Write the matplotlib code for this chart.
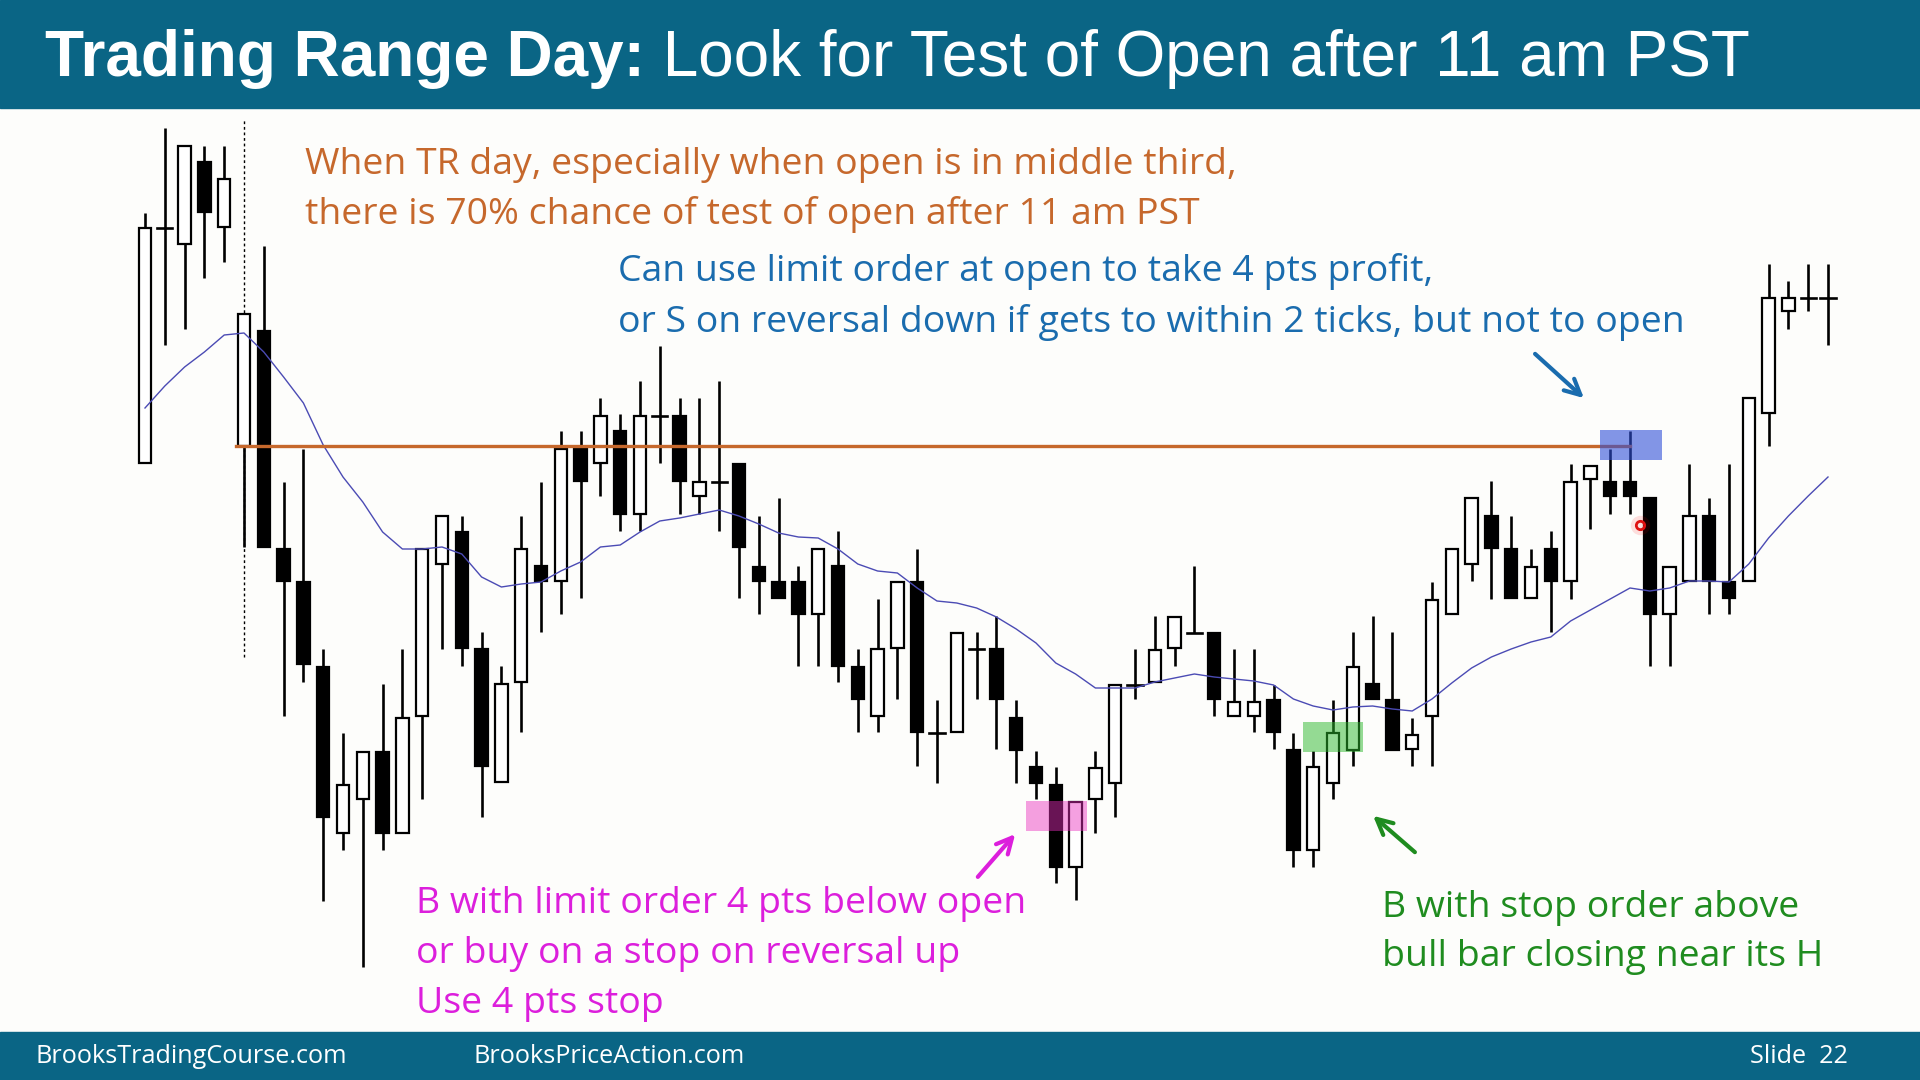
import matplotlib
matplotlib.use("Agg")
import matplotlib.pyplot as plt
from matplotlib.patches import Rectangle

# 5-min bars, Emini
opens = [1305.37, 1307.72, 1307.56, 1308.38, 1307.73, 1305.54, 1306.69, 1304.51, 1304.18, 1303.33,
         1301.67, 1302.01, 1302.48, 1301.67, 1302.84, 1304.36, 1304.68, 1303.51, 1302.18, 1303.18,
         1304.34, 1304.19, 1305.51, 1305.37, 1305.69, 1304.86, 1305.84, 1305.84, 1305.04, 1305.18,
         1305.36, 1304.33, 1304.18, 1304.18, 1303.86, 1304.34, 1303.33, 1302.84, 1303.52, 1304.18,
         1302.67, 1302.68, 1303.51, 1303.51, 1302.82, 1302.33, 1302.15, 1301.33, 1302.01, 1302.17,
         1303.15, 1303.18, 1303.52, 1303.67, 1303.67, 1302.84, 1302.84, 1303.00, 1302.50, 1301.50,
         1302.17, 1302.50, 1303.16, 1303.00, 1302.51, 1302.84, 1303.86, 1304.36, 1304.84, 1304.51,
         1304.02, 1304.51, 1304.19, 1305.21, 1305.18, 1305.18, 1305.02, 1303.86, 1304.19, 1304.84,
         1304.18, 1304.19, 1305.87, 1306.89, 1307.02, 1307.02]
highs = [1307.87, 1308.72, 1308.54, 1308.54, 1308.54, 1306.86, 1307.54, 1305.18, 1305.51, 1303.51,
         1302.67, 1302.48, 1303.16, 1303.51, 1304.51, 1304.84, 1304.84, 1303.68, 1303.34, 1304.84,
         1305.18, 1305.69, 1305.69, 1306.02, 1305.86, 1306.19, 1306.54, 1306.02, 1306.02, 1306.19,
         1305.36, 1304.84, 1305.02, 1304.34, 1304.51, 1304.69, 1303.51, 1304.01, 1304.18, 1304.51,
         1303.00, 1303.67, 1303.68, 1303.84, 1303.00, 1302.49, 1302.33, 1301.98, 1302.49, 1303.15,
         1303.51, 1303.84, 1303.83, 1304.34, 1303.67, 1303.51, 1303.51, 1303.15, 1302.67, 1302.49,
         1303.00, 1303.68, 1303.84, 1303.68, 1302.82, 1304.18, 1304.51, 1305.02, 1305.19, 1304.84,
         1304.51, 1304.69, 1305.36, 1305.34, 1305.51, 1305.69, 1305.02, 1304.33, 1305.36, 1305.02,
         1305.36, 1306.02, 1307.36, 1307.19, 1307.36, 1307.36]
lows = [1305.37, 1306.55, 1306.71, 1307.22, 1307.38, 1304.53, 1304.53, 1302.84, 1303.18, 1300.99,
        1301.50, 1300.33, 1301.50, 1301.67, 1302.01, 1303.51, 1303.34, 1301.83, 1302.18, 1302.68,
        1303.68, 1303.86, 1304.02, 1305.04, 1304.69, 1304.69, 1305.37, 1304.86, 1304.86, 1304.69,
        1304.02, 1303.86, 1304.02, 1303.34, 1303.34, 1303.18, 1302.68, 1302.68, 1303.01, 1302.34,
        1302.17, 1302.68, 1303.01, 1302.51, 1302.17, 1302.01, 1301.17, 1301.00, 1301.67, 1301.83,
        1303.01, 1303.18, 1303.34, 1303.67, 1302.84, 1302.84, 1302.68, 1302.51, 1301.33, 1301.33,
        1302.01, 1302.34, 1303.01, 1302.50, 1302.34, 1302.34, 1303.86, 1304.19, 1304.01, 1304.02,
        1304.02, 1303.68, 1304.01, 1304.71, 1304.86, 1304.86, 1303.34, 1303.34, 1304.19, 1303.86,
        1303.86, 1304.19, 1305.54, 1306.71, 1306.89, 1306.55]
closes = [1307.72, 1307.72, 1308.54, 1307.88, 1308.21, 1306.86, 1304.53, 1304.19, 1303.36, 1301.83,
          1302.15, 1302.48, 1301.67, 1302.82, 1304.51, 1304.84, 1303.52, 1302.34, 1303.16, 1304.51,
          1304.19, 1305.51, 1305.19, 1305.84, 1304.86, 1305.84, 1305.84, 1305.19, 1305.18, 1305.18,
          1304.53, 1304.19, 1304.02, 1303.86, 1304.51, 1303.34, 1303.01, 1303.51, 1304.18, 1302.68,
          1302.67, 1303.67, 1303.51, 1303.01, 1302.50, 1302.17, 1301.33, 1301.98, 1302.32, 1303.15,
          1303.15, 1303.50, 1303.83, 1303.67, 1303.01, 1302.98, 1302.98, 1302.68, 1301.50, 1302.33,
          1302.67, 1303.33, 1303.01, 1302.50, 1302.65, 1304.00, 1304.51, 1305.02, 1304.52, 1304.02,
          1304.33, 1304.19, 1305.18, 1305.34, 1305.04, 1305.04, 1303.86, 1304.33, 1304.84, 1304.19,
          1304.02, 1306.02, 1307.02, 1307.02, 1307.02, 1307.02]
ema20 = [1305.92, 1306.14, 1306.33, 1306.48, 1306.65, 1306.67, 1306.48, 1306.23, 1305.97, 1305.55,
         1305.23, 1304.98, 1304.68, 1304.51, 1304.51, 1304.53, 1304.46, 1304.23, 1304.13, 1304.16,
         1304.18, 1304.29, 1304.38, 1304.53, 1304.55, 1304.68, 1304.79, 1304.82, 1304.86, 1304.90,
         1304.84, 1304.76, 1304.67, 1304.63, 1304.62, 1304.51, 1304.36, 1304.29, 1304.27, 1304.12,
         1303.99, 1303.97, 1303.92, 1303.83, 1303.71, 1303.57, 1303.37, 1303.26, 1303.12, 1303.12,
         1303.12, 1303.18, 1303.22, 1303.26, 1303.23, 1303.21, 1303.19, 1303.15, 1303.01, 1302.94,
         1302.90, 1302.93, 1302.94, 1302.91, 1302.89, 1303.01, 1303.17, 1303.32, 1303.43, 1303.51,
         1303.58, 1303.63, 1303.79, 1303.90, 1304.01, 1304.12, 1304.09, 1304.12, 1304.19, 1304.19,
         1304.18, 1304.36, 1304.62, 1304.84, 1305.04, 1305.23]

day_open = 1305.54
open_bar = 5          # first bar of the day
open_line_end = 75    # open line drawn up to this bar
session_line = [1303.43, 1308.81]

# highlighted entry zones: (first bar, last bar, low, high)
zone_names = ["limit buy", "stop buy", "scalp target"]
zone_bars = [(44.5, 47.6), (58.5, 61.5), (73.5, 76.6)]
zone_prices = [(1301.69, 1301.99), (1302.48, 1302.78), (1305.40, 1305.70)]
zone_colors = ["#eb2dbe", "#2cb82c", "#3050d8"]
zone_alpha = [0.45, 0.5, 0.6]

TEAL = "#0a6585"
ORANGE = "#c6682c"
BLUE = "#1a6cae"
MAGENTA = "#dc1fdc"
GREEN = "#1f8c1f"

W, H = 1920, 1080
fig = plt.figure(figsize=(19.2, 10.8), dpi=100)
fig.patch.set_facecolor("#fdfdfb")

# chart area between header and footer
ax = fig.add_axes([0, 50 / H, 1, 922 / H])
ax.set_facecolor("#fdfdfb")
ax.set_xlim(-145 / 19.8, (W - 145) / 19.8)
ax.set_ylim(1299.70, 1308.92)
ax.axis("off")

for i, (o, h, l, c) in enumerate(zip(opens, highs, lows, closes)):
    top, bot = max(o, c), min(o, c)
    if h > top:
        ax.plot([i, i], [top, h], color="black", lw=1.9, solid_capstyle="butt", zorder=2)
    if l < bot:
        ax.plot([i, i], [l, bot], color="black", lw=1.9, solid_capstyle="butt", zorder=2)
    if o == c:
        ax.plot([i - 0.38, i + 0.38], [o, o], color="black", lw=1.9, zorder=3)
    else:
        face = "white" if c > o else "black"
        ax.add_patch(Rectangle((i - 0.31, bot), 0.62, top - bot, facecolor=face,
                               edgecolor="black", lw=1.6, zorder=3))

ax.plot(range(len(ema20)), ema20, color="#4b4bb4", lw=1.0, zorder=4)

# open of the day and start-of-session marker
ax.plot([open_bar - 0.38, open_line_end], [day_open, day_open], color=ORANGE, lw=2.4, zorder=5)
ax.plot([open_bar, open_bar], session_line, color="black", lw=1.0, ls=(0, (2, 2)), zorder=1)

for (x0, x1), (lo, hi), col, a in zip(zone_bars, zone_prices, zone_colors, zone_alpha):
    ax.add_patch(Rectangle((x0, lo), x1 - x0, hi - lo, facecolor=col, edgecolor="none",
                           alpha=a, zorder=6))

# red cursor dot
ax.plot([75.5], [1304.75], "o", ms=14, color="red", alpha=0.12, mec="none", zorder=7)
ax.plot([75.5], [1304.75], "o", ms=6, mfc="none", mec="#e01010", mew=2, zorder=7)

# header and footer bands
fig.add_artist(Rectangle((0, 1 - 108 / H), 1, 108 / H, transform=fig.transFigure,
                         color=TEAL, zorder=0))
fig.add_artist(Rectangle((0, 0), 1, 48 / H, transform=fig.transFigure, color=TEAL, zorder=0))

t1 = fig.text(45 / W, 1 - 76 / H, "Trading Range Day:", color="white", fontsize=46,
              fontweight="bold", family="Liberation Sans", va="baseline")
fig.canvas.draw()
bb = t1.get_window_extent()
fig.text(bb.x1 / W, 1 - 76 / H, " Look for Test of Open after 11 am PST", color="white",
         fontsize=46, family="Liberation Sans", va="baseline")

foot = dict(color="white", fontsize=18.2, family="Open Sans", va="baseline")
fig.text(36 / W, 1 - 1063 / H, "BrooksTradingCourse.com", **foot)
fig.text(474 / W, 1 - 1063 / H, "BrooksPriceAction.com", **foot)
fig.text(1750 / W, 1 - 1063 / H, "Slide  22", **foot)

note = dict(fontsize=26.9, family="Open Sans", va="baseline")
fig.text(305 / W, 1 - 174 / H, "When TR day, especially when open is in middle third,",
         color=ORANGE, **note)
fig.text(305 / W, 1 - 224 / H, "there is 70% chance of test of open after 11 am PST",
         color=ORANGE, **note)
fig.text(618 / W, 1 - 281 / H, "Can use limit order at open to take 4 pts profit,",
         color=BLUE, **note)
fig.text(618 / W, 1 - 332 / H, "or S on reversal down if gets to within 2 ticks, but not to open",
         color=BLUE, **note)
fig.text(416 / W, 1 - 913 / H, "B with limit order 4 pts below open", color=MAGENTA, **note)
fig.text(416 / W, 1 - 963 / H, "or buy on a stop on reversal up", color=MAGENTA, **note)
fig.text(416 / W, 1 - 1013 / H, "Use 4 pts stop", color=MAGENTA, **note)
fig.text(1382 / W, 1 - 917 / H, "B with stop order above", color=GREEN, **note)
fig.text(1382 / W, 1 - 966 / H, "bull bar closing near its H", color=GREEN, **note)

arrows = [((1533, 352), (1586, 400), BLUE),
          ((976, 879), (1017, 832), MAGENTA),
          ((1417, 854), (1371, 814), GREEN)]
for (tx, ty), (hx, hy), col in arrows:
    fig.add_artist(plt.Annotation("", xy=(hx, H - hy), xytext=(tx, H - ty),
                                  xycoords="figure pixels", textcoords="figure pixels",
                                  arrowprops=dict(arrowstyle="->", color=col, lw=3,
                                                  mutation_scale=28)))

fig.savefig("out.png", dpi=100, facecolor=fig.get_facecolor())
